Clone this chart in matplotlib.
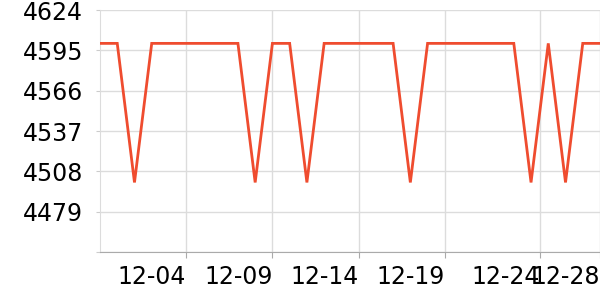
import numpy as np
import matplotlib
matplotlib.use("Agg")
import matplotlib.pyplot as plt

# daily values, 11-29 .. 12-28
dates = ['11-29', '11-30', '12-01', '12-02', '12-03', '12-04', '12-05', '12-06',
         '12-07', '12-08', '12-09', '12-10', '12-11', '12-12', '12-13', '12-14',
         '12-15', '12-16', '12-17', '12-18', '12-19', '12-20', '12-21', '12-22',
         '12-23', '12-24', '12-25', '12-26', '12-27', '12-28']
values = [4600, 4600, 4500, 4600, 4600, 4600, 4600, 4600, 4600, 4500,
          4600, 4600, 4500, 4600, 4600, 4600, 4600, 4600, 4500, 4600,
          4600, 4600, 4600, 4600, 4600, 4500, 4600, 4500, 4600, 4600]

tick_pos = [5, 10, 15, 20, 25.5, 29]
tick_labels = ['12-04', '12-09', '12-14', '12-19', '12-24', '12-28']
y_ticks = [4450, 4479, 4508, 4537, 4566, 4595, 4624]
y_labels = ['', '4479', '4508', '4537', '4566', '4595', '4624']

fig = plt.figure(figsize=(6, 3), dpi=100)
ax = fig.add_axes([100 / 600, 48 / 300, 500 / 600, 242 / 300])

x = np.arange(len(values))
ax.plot(x, values, color='#ef4c2f', lw=2.0, solid_joinstyle='miter', zorder=3)

ax.set_xlim(0, len(values) - 1)
ax.set_ylim(4450, 4624)
ax.set_yticks(y_ticks)
ax.set_yticklabels(y_labels)
ax.set_xticks(tick_pos)
ax.set_xticklabels(tick_labels, ha='right')

ax.grid(True, color='#dcdcdc', lw=1)
ax.set_axisbelow(True)
for s in ['top', 'right']:
    ax.spines[s].set_visible(False)
ax.spines['left'].set_color('#dcdcdc')
ax.spines['bottom'].set_color('#aaaaaa')
ax.tick_params(axis='y', length=3, color='#cccccc', labelsize=17, pad=9)
ax.tick_params(axis='x', length=4, color='#aaaaaa', labelsize=17, pad=5)

fig.savefig('out.png', dpi=100)
